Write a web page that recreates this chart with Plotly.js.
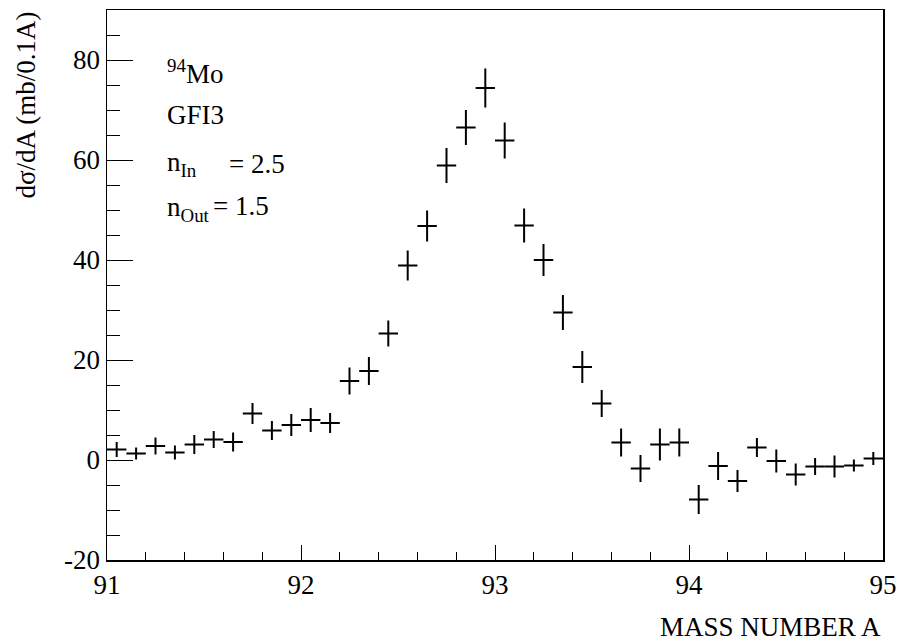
<!DOCTYPE html>
<html>
<head>
<meta charset="utf-8">
<script src="https://cdn.plot.ly/plotly-3.0.1.min.js"></script>
<style>html,body{margin:0;padding:0;background:#fff;}#chart{width:899px;height:642px;}</style>
</head>
<body>
<div id="chart"></div>
<script>
// Bin centers (mass number A), bin width 0.1
const massA = [91.05,91.15,91.25,91.35,91.45,91.55,91.65,91.75,91.85,91.95,
               92.05,92.15,92.25,92.35,92.45,92.55,92.65,92.75,92.85,92.95,
               93.05,93.15,93.25,93.35,93.45,93.55,93.65,93.75,93.85,93.95,
               94.05,94.15,94.25,94.35,94.45,94.55,94.65,94.75,94.85,94.95];
// dσ/dA values (mb/0.1A)
const sigma = [2.1,1.3,2.8,1.5,3.1,4.1,3.6,9.3,5.9,7.0,
               8.0,7.4,15.8,17.8,25.3,38.9,46.8,58.9,66.5,74.4,
               63.9,46.9,40.0,29.5,18.6,11.3,3.5,-1.7,3.1,3.5,
               -7.9,-1.2,-4.2,2.5,-0.2,-2.9,-1.3,-1.3,-1.1,0.3];
// statistical errors
const sigmaErr = [1.5,1.2,1.7,1.4,1.9,1.7,1.9,2.1,1.9,2.2,
                  2.4,2.0,2.7,2.8,2.6,3.0,3.1,3.5,3.5,3.9,
                  3.6,3.4,3.2,3.5,3.2,2.7,2.8,2.7,3.2,2.8,
                  2.9,2.8,2.2,1.9,2.3,2.2,1.7,2.2,1.2,1.3];
const halfBin = massA.map(() => 0.05);
const xTicks = [91, 92, 93, 94, 95];
const yTicks = [-20, 0, 20, 40, 60, 80];

const serif = "Liberation Serif";
const fs = 27;

const trace = {
  x: massA, y: sigma, type: 'scatter', mode: 'markers',
  marker: {size: 1, color: 'black'},
  error_y: {type: 'data', array: sigmaErr, visible: true, width: 0, thickness: 2, color: 'black'},
  error_x: {type: 'data', array: halfBin, visible: true, width: 0, thickness: 2, color: 'black'},
  hoverinfo: 'skip', showlegend: false
};

function txt(text, xs, ys, size) {
  return {text: text, xref: 'paper', yref: 'paper', x: 0, y: 1, xanchor: 'left', yanchor: 'middle',
          xshift: xs, yshift: ys, showarrow: false, font: {family: serif, size: size, color: 'black'}};
}

const layout = {
  width: 899, height: 642,
  margin: {l: 107, r: 16, t: 10, b: 82},
  paper_bgcolor: '#fff', plot_bgcolor: '#fff',
  font: {family: serif, size: fs, color: 'black'},
  xaxis: {
    range: [91, 95], showgrid: false, zeroline: false,
    showline: true, linecolor: 'black', linewidth: 1.5, mirror: true,
    ticks: 'inside', ticklen: 15, tickwidth: 1, tickcolor: 'black',
    tickvals: xTicks, ticktext: xTicks.map(String),
    minor: {dtick: 0.2, ticks: 'inside', ticklen: 8, tickwidth: 1, tickcolor: 'black', showgrid: false},
    tickfont: {family: serif, size: fs, color: 'black'}
  },
  yaxis: {
    range: [-20, 90], showgrid: false, zeroline: false,
    showline: true, linecolor: 'black', linewidth: 1.5, mirror: true,
    ticks: 'inside', ticklen: 26, tickwidth: 1, tickcolor: 'black',
    tickvals: yTicks, ticktext: yTicks.map(String),
    minor: {dtick: 5, ticks: 'inside', ticklen: 13, tickwidth: 1, tickcolor: 'black', showgrid: false},
    tickfont: {family: serif, size: fs, color: 'black'}
  },
  annotations: [
    {text: 'MASS NUMBER A', xref: 'paper', yref: 'paper', x: 1, y: 0, xanchor: 'right', yanchor: 'middle',
     xshift: 0, yshift: -67, showarrow: false, font: {family: serif, size: fs, color: 'black'}},
    {text: 'dσ/dA (mb/0.1A)', xref: 'paper', yref: 'paper', x: 0, y: 1, xanchor: 'center', yanchor: 'top',
     xshift: -82, yshift: 0, textangle: -90, showarrow: false, font: {family: serif, size: fs, color: 'black'}},
    txt('<sup>94</sup>Mo', 58, -62, fs),
    txt('GFI3', 58, -105, fs),
    txt('n<sub>In</sub>', 58, -154, fs),
    txt('= 2.5', 120, -154, fs),
    txt('n<sub>Out</sub>', 58, -199, fs),
    txt('= 1.5', 104, -196, fs)
  ]
};

Plotly.newPlot('chart', [trace], layout, {staticPlot: true, displayModeBar: false});
</script>
</body>
</html>
